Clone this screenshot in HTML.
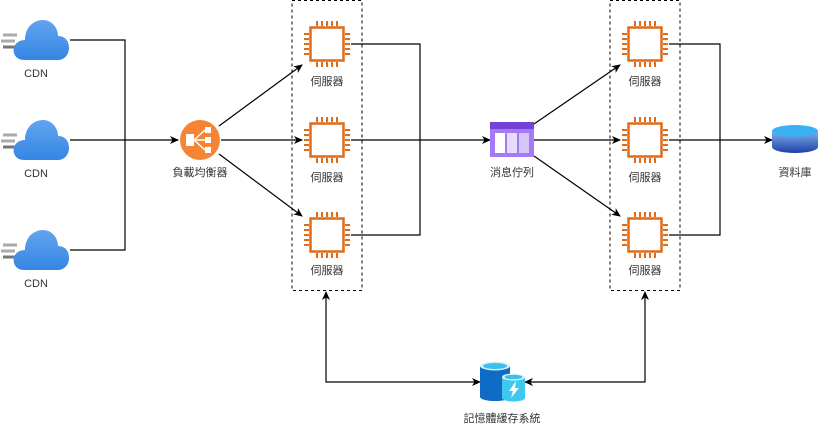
<!DOCTYPE html>
<html><head><meta charset="utf-8"><style>
html,body{margin:0;padding:0;background:#fff;}
svg{display:block;}
text{font-family:"Liberation Sans","Noto Sans CJK TC",sans-serif;font-size:11px;fill:#333;text-anchor:middle;}
</style></head><body>
<svg width="821" height="426" viewBox="0 0 821 426" xmlns="http://www.w3.org/2000/svg">
<defs>
<marker id="ar" markerWidth="10" markerHeight="10" refX="8" refY="5" orient="auto" markerUnits="userSpaceOnUse">
<path d="M0,1 L9,5 L0,9 L2.5,5 Z" fill="#000"/></marker>
<marker id="as" markerWidth="10" markerHeight="10" refX="1" refY="5" orient="auto" markerUnits="userSpaceOnUse">
<path d="M9,1 L0,5 L9,9 L6.5,5 Z" fill="#000"/></marker>
<g id="chip">
<rect x="-16.5" y="-16.5" width="33" height="33" fill="#fff" stroke="#e06c1a" stroke-width="2.5"/>
<g stroke="#e06c1a" stroke-width="2">
<path d="M-10,-18v-5M-5,-18v-5M0,-18v-5M5,-18v-5M10,-18v-5"/>
<path d="M-10,18v5M-5,18v5M0,18v5M5,18v5M10,18v5"/>
<path d="M-18,-10h-5M-18,-5h-5M-18,0h-5M-18,5h-5M-18,10h-5"/>
<path d="M18,-10h5M18,-5h5M18,0h5M18,5h5M18,10h5"/>
</g></g>
<linearGradient id="cg" x1="0" y1="0" x2="0" y2="1"><stop offset="0" stop-color="#62a4f0"/><stop offset="1" stop-color="#3586e2"/></linearGradient>
<g id="cloud">
<path d="M3,-5h14M1,1h14M3,7h14" stroke="#aaa" stroke-width="3"/>
<path d="M3,7h12" stroke="#777" stroke-width="3"/>
<path d="M24,20 C10,20 10,0 25,0 C25,-14 35,-20 43,-20 C52,-20 58,-12 58,-4 C66,-4 69,2 69,8 C69,15 64,20 58,20 Z" fill="url(#cg)"/>
</g>
</defs>

<rect x="292" y="0.5" width="70" height="290" fill="none" stroke="#000" stroke-dasharray="3,3"/>
<rect x="610" y="0.5" width="70" height="290" fill="none" stroke="#000" stroke-dasharray="3,3"/>

<g fill="none" stroke="#000" stroke-width="1.2">
<path d="M70,40H125V250H70"/>
<path d="M70,140H178" marker-end="url(#ar)"/>
<path d="M219,126L302,65" marker-end="url(#ar)"/>
<path d="M221,140H302" marker-end="url(#ar)"/>
<path d="M219,154L302,216" marker-end="url(#ar)"/>
<path d="M351,44H420V235H351"/>
<path d="M351,140H490" marker-end="url(#ar)"/>
<path d="M534,124L620,65" marker-end="url(#ar)"/>
<path d="M534,140H620" marker-end="url(#ar)"/>
<path d="M534,156L620,216" marker-end="url(#ar)"/>
<path d="M669,44H720V235H669"/>
<path d="M669,140H772" marker-end="url(#ar)"/>
<path d="M326,292V382H480" marker-start="url(#as)" marker-end="url(#ar)" />
<path d="M645,292V382H525" marker-start="url(#as)" marker-end="url(#ar)"/>
</g>

<use href="#cloud" x="0" y="40"/>
<use href="#cloud" x="0" y="140"/>
<use href="#cloud" x="0" y="250"/>
<text x="36" y="77">CDN</text>
<text x="36" y="177">CDN</text>
<text x="36" y="287">CDN</text>

<circle cx="200" cy="140" r="20" fill="#f58534"/>
<g fill="#fff">
<rect x="186" y="134" width="8" height="12"/>
<rect x="205" y="127" width="6" height="6"/><rect x="205" y="137" width="6" height="6"/><rect x="205" y="147" width="6" height="6"/>
</g>
<path d="M194,140L205,130M194,140H205M194,140L205,150" stroke="#fff" stroke-width="1.5"/>
<text x="200" y="176">負載均衡器</text>

<use href="#chip" x="327" y="44"/>
<use href="#chip" x="327" y="140"/>
<use href="#chip" x="327" y="235"/>
<text x="327" y="85">伺服器</text>
<text x="327" y="181">伺服器</text>
<text x="327" y="274">伺服器</text>
<use href="#chip" x="645" y="44"/>
<use href="#chip" x="645" y="140"/>
<use href="#chip" x="645" y="235"/>
<text x="645" y="85">伺服器</text>
<text x="645" y="181">伺服器</text>
<text x="645" y="274">伺服器</text>

<rect x="490" y="122" width="44" height="35" fill="#a67af4"/>
<rect x="490" y="122" width="44" height="7" fill="#7342d6"/>
<rect x="495" y="133" width="10" height="20" fill="#fff"/>
<rect x="507" y="133" width="10" height="20" fill="#e6dcfb"/>
<rect x="519" y="133" width="10" height="20" fill="#d6c6f8"/>
<text x="512" y="176">消息佇列</text>

<defs><linearGradient id="dg" x1="0" y1="0" x2="0" y2="1"><stop offset="0" stop-color="#7fb3ea"/><stop offset="1" stop-color="#1f3fa8"/></linearGradient></defs>
<path d="M772,131V147A23,6 0 0 0 818,147V131Z" fill="url(#dg)"/>
<ellipse cx="795" cy="131" rx="23" ry="6" fill="#3bb0f3"/>
<text x="795" y="176">資料庫</text>

<path d="M480,366V397A15,4 0 0 0 510,397V366Z" fill="#0f6cc4"/>
<ellipse cx="495" cy="366" rx="15" ry="4.5" fill="#d8eef9"/>
<ellipse cx="495" cy="366" rx="12" ry="3" fill="#39c1ea"/>
<path d="M502,377V398A11.5,3.5 0 0 0 525,398V377Z" fill="#3cc8ef"/>
<ellipse cx="513.5" cy="377" rx="11.5" ry="3.5" fill="#e6f6fc"/>
<ellipse cx="513.5" cy="377" rx="9" ry="2.3" fill="#3bbfe7"/>
<path d="M516,381L509,391H513L511,398L519,388H515Z" fill="#fff"/>
<text x="502" y="422">記憶體緩存系統</text>
</svg>
</body></html>
